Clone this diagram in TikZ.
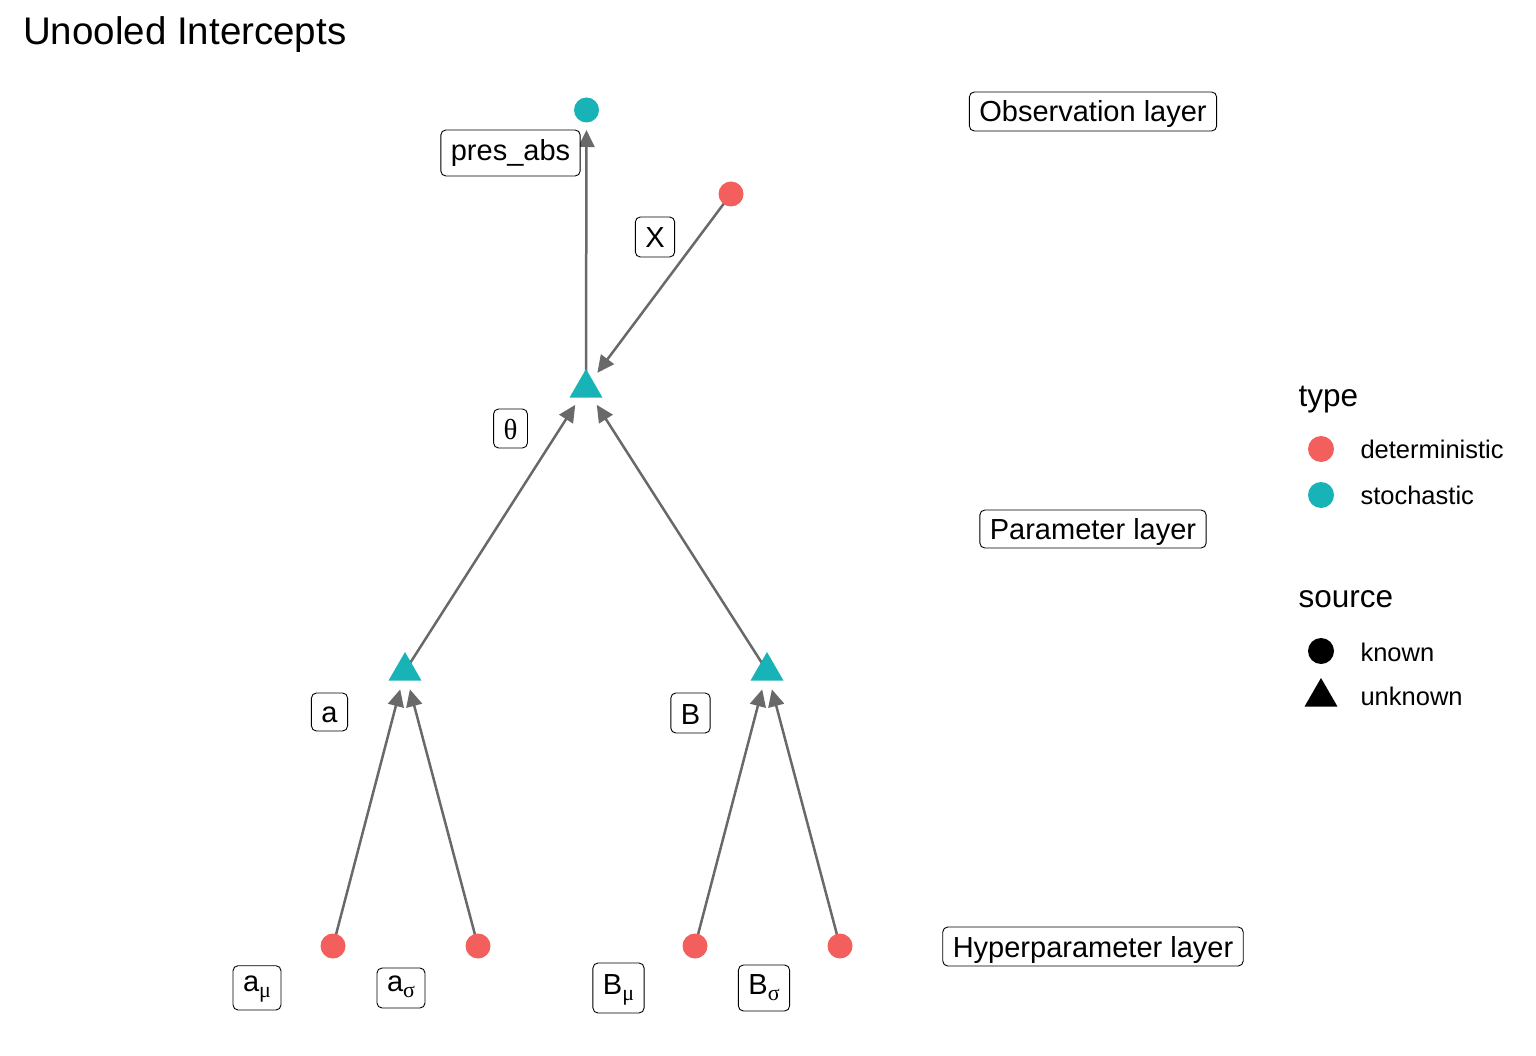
\documentclass[tikz,border=0pt]{standalone}
\usepackage{fontspec}
\setmainfont{Liberation Sans}
\newfontfamily\grk{Liberation Serif}
\usetikzlibrary{arrows.meta,shapes.geometric,backgrounds}
\definecolor{detc}{HTML}{F35F5C}
\definecolor{stoc}{HTML}{18B3B7}
\definecolor{edgec}{HTML}{696969}
\newcommand{\mysub}[1]{\raisebox{-6.5pt}{\fontsize{22}{22}\selectfont\grk #1}}
\begin{document}
\begin{tikzpicture}[x=1pt,y=-1pt,
  ptc/.style={circle,fill=#1,minimum size=25pt,inner sep=0pt},
  tri/.style={regular polygon,regular polygon sides=3,fill=#1,minimum size=38pt,inner sep=0pt},
  lab/.style={draw=black,line width=0.9pt,rounded corners=5pt,fill=white,inner xsep=10pt,inner ysep=0pt,anchor=base,font=\fontsize{29}{29}\selectfont},
  hd/.style 2 args={text height=#1pt,text depth=#2pt},
  conn/.style={draw=edgec,line width=2.5pt,-{Triangle[length=17pt,width=16pt]},shorten >=#1},
  legt/.style={anchor=base west,font=\fontsize{31.5}{32}\selectfont},
  legl/.style={anchor=base west,font=\fontsize{25.5}{26}\selectfont}]
\useasboundingbox (0,0) rectangle (1536,1056);

% title
\node[anchor=base west,inner sep=0pt,font=\fontsize{38.5}{39}\selectfont] (title) at (23,45) {Unooled Intercepts};

% points
\node[ptc=stoc] (pres) at (586.5,110) {};
\node[ptc=detc] (X) at (731,194) {};
\node[tri=stoc] (theta) at (586,388) {};
\node[tri=stoc] (a) at (405,671) {};
\node[tri=stoc] (B) at (767,671) {};
\node[ptc=detc] (amu) at (333,946) {};
\node[ptc=detc] (asig) at (478,946) {};
\node[ptc=detc] (Bmu) at (695,946) {};
\node[ptc=detc] (Bsig) at (840,946) {};

% edges
\begin{scope}[on background layer]
\draw[conn=20pt] (theta.center) -- (pres.center);
\draw[conn=19pt] (X.center) -- (theta.center);
\draw[conn=20pt] (a.center) -- (theta.center);
\draw[conn=20pt] (B.center) -- (theta.center);
\draw[conn=19pt] (amu.center) -- (a.center);
\draw[conn=19pt] (asig.center) -- (a.center);
\draw[conn=19pt] (Bmu.center) -- (B.center);
\draw[conn=19pt] (Bsig.center) -- (B.center);
\end{scope}

% labels
\node[lab,hd={30.7}{15.3}] (lpres) at (510.5,160.7) {pres\_abs};
\node[lab,hd={31}{9}] (lX) at (655,248) {X};
\node[lab,hd={30.5}{8.5}] (ltheta) at (510.5,439.5) {{\grk θ}};
\node[lab,hd={29}{9}] (la) at (329.5,722) {a};
\node[lab,hd={31}{9}] (lB) at (690.5,724) {B};
\node[lab,hd={25.3}{19}] (lamu) at (257,991) {a\mysub{μ}};
\node[lab,hd={23}{17}] (lasig) at (401,991) {a\mysub{σ}};
\node[lab,hd={31}{19}] (lBmu) at (618.5,994) {B\mysub{μ}};
\node[lab,hd={29}{17}] (lBsig) at (764,994) {B\mysub{σ}};

% layer labels
\node[lab,hd={30}{9}] (obs) at (1093,122) {Observation layer};
\node[lab,hd={29}{9}] (par) at (1093,539) {Parameter layer};
\node[lab,hd={30}{9}] (hyp) at (1093,957) {Hyperparameter layer};

% legend
\node[legt] (ltype) at (1295,406) {type};
\node[ptc=detc,minimum size=26pt] (kdet) at (1321,449) {};
\node[legl] (tdet) at (1357,458) {deterministic};
\node[ptc=stoc,minimum size=26pt] (ksto) at (1321,495) {};
\node[legl] (tsto) at (1357,504) {stochastic};
\node[legt] (lsource) at (1295,607) {source};
\node[ptc=black,minimum size=26pt] (kknown) at (1321,651) {};
\node[legl] (tknown) at (1357,661) {known};
\node[tri=black] (kunk) at (1321,697) {};
\node[legl] (tunk) at (1357,705) {unknown};
\end{tikzpicture}
\end{document}
